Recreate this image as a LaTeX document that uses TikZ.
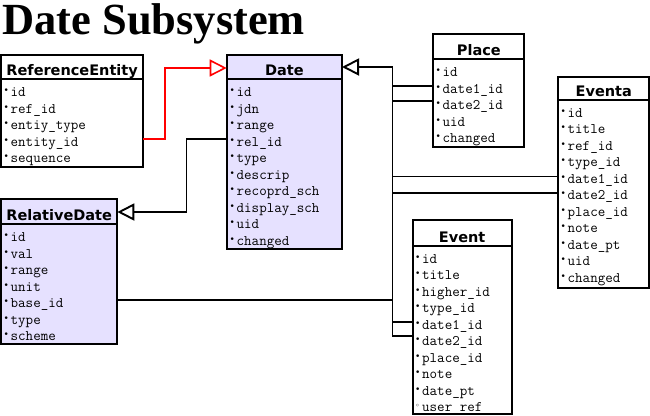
\documentclass[tikz,border=0pt]{standalone}
\usepackage{fontspec}
\usetikzlibrary{arrows.meta}
\newfontfamily\hdrfamily{DejaVu Sans}
\newfontfamily\titlefamily{Liberation Serif}
\newfontfamily\markfamily{DejaVu Sans}
\definecolor{lav}{HTML}{E6E1FF}
\definecolor{relred}{HTML}{FF0000}
\newcommand\fkmark{\makebox[7pt][l]{\raisebox{3pt}{\markfamily\fontsize{9}{9}\selectfont •}}}
\newcommand\optmark{\makebox[7pt][l]{\raisebox{3pt}{\markfamily\fontsize{8}{8}\selectfont ◦}}}
\tikzset{
  tbl/.style={draw, line width=1.7pt, inner sep=0pt, outer sep=0pt, anchor=north west},
  hdr/.style={draw, line width=1.7pt, inner sep=0pt, outer sep=0pt, anchor=north west,
    font=\hdrfamily\bfseries\fontsize{14.5}{16}\selectfont, text depth=0pt},
  rowtxt/.style={anchor=base west, inner sep=0pt, font=\ttfamily\fontsize{14.6}{16}\selectfont},
  conn/.style={line width=1.2pt},
  trunk/.style={line width=1.9pt},
  gen/.style={-{Triangle[open,length=17pt,width=17pt]}},
}
\begin{document}
\begin{tikzpicture}[x=1pt,y=-1pt]
\useasboundingbox (0,0) rectangle (650,415);

\node[anchor=base west, inner sep=0pt, font=\titlefamily\bfseries\fontsize{44.5}{48}\selectfont] (title) at (2,34) {Date Subsystem};

% ReferenceEntity
\node[tbl, fill=white, minimum width=142.3, minimum height=112.3] (refent) at (1,54.7) {};
\node[hdr, fill=white, minimum width=142.3, minimum height=24.3, text height=17.1pt] (refent-h) at (1,54.7) {ReferenceEntity};
\foreach[count=\i] \attr in {id,ref\_id,entiy\_type,entity\_id,sequence}
  \node[rowtxt] (refent-\i) at ({3.5},{79+17.6+16.5*(\i-1)}) {\fkmark\attr};

% Date
\node[tbl, fill=lav, minimum width=115.3, minimum height=194.3] (date) at (226.7,54.7) {};
\node[hdr, fill=lav, minimum width=115.3, minimum height=24.6, text height=17.4pt] (date-h) at (226.7,54.7) {Date};
\foreach[count=\i] \attr in {id,jdn,range,rel\_id,type,descrip,recoprd\_sch,display\_sch,uid,changed}
  \node[rowtxt] (date-\i) at ({229.5},{79.3+17.6+16.5*(\i-1)}) {\fkmark\attr};

% Place
\node[tbl, fill=white, minimum width=91, minimum height=112.7] (place) at (433.3,34) {};
\node[hdr, fill=white, minimum width=91, minimum height=25.3, text height=18.1pt] (place-h) at (433.3,34) {Place};
\foreach[count=\i] \attr in {id,date1\_id,date2\_id,uid,changed}
  \node[rowtxt] (place-\i) at ({435.5},{59.3+17.4+16.5*(\i-1)}) {\fkmark\attr};

% Eventa
\node[tbl, fill=white, minimum width=91, minimum height=211.3] (eventa) at (558.3,76.7) {};
\node[hdr, fill=white, minimum width=91, minimum height=23.3, text height=16.1pt] (eventa-h) at (558.3,76.7) {Eventa};
\foreach[count=\i] \attr in {id,title,ref\_id,type\_id,date1\_id,date2\_id,place\_id,note,date\_pt,uid,changed}
  \node[rowtxt] (eventa-\i) at ({560.5},{100+17.4+16.5*(\i-1)}) {\fkmark\attr};

% Event
\node[tbl, fill=white, minimum width=99, minimum height=194] (event) at (412.7,220) {};
\node[hdr, fill=white, minimum width=99, minimum height=26, text height=18.8pt] (event-h) at (412.7,220) {Event};
\foreach[count=\i] \attr in {id,title,higher\_id,type\_id,date1\_id,date2\_id,place\_id,note,date\_pt}
  \node[rowtxt] (event-\i) at ({415},{246+17.4+16.5*(\i-1)}) {\fkmark\attr};
\node[rowtxt] (event-10) at ({415},{246+17.4+16.5*9}) {\optmark user\_ref};

% RelativeDate
\node[tbl, fill=lav, minimum width=116.3, minimum height=144.7] (reldate) at (1,199.3) {};
\node[hdr, fill=lav, minimum width=116.3, minimum height=25, text height=17.8pt] (reldate-h) at (1,199.3) {RelativeDate};
\foreach[count=\i] \attr in {id,val,range,unit,base\_id,type,scheme}
  \node[rowtxt] (reldate-\i) at ({3.5},{224.3+17.4+16.5*(\i-1)}) {\fkmark\attr};

% connectors
\coordinate (redbend) at (165,139);
\coordinate (relbend) at (186.5,139);
\coordinate (trunktop) at (392.5,67);
\coordinate (trunkx) at (392.5,0);

\draw[conn, relred, line width=1.6pt, gen] (refent.east |- redbend) -- (redbend) |- (date.west |- 0,68);
\draw[trunk, gen] (date.west |- relbend) -- (relbend) |- (reldate.east |- 0,212);

\draw[trunk, gen] (event.west |- 0,336) -| (trunktop) -- (date.east |- trunktop);
\draw[conn] (event.west |- 0,322) -- (trunkx |- 0,322);
\draw[conn] (reldate.east |- 0,300) -- (trunkx |- 0,300);
\draw[conn] (place.west |- 0,86) -- (trunkx |- 0,86);
\draw[conn] (place.west |- 0,101) -- (trunkx |- 0,101);
\draw[conn] (eventa.west |- 0,176.5) -- (trunkx |- 0,176.5);
\draw[conn] (eventa.west |- 0,193) -- (trunkx |- 0,193);
\end{tikzpicture}
\end{document}
